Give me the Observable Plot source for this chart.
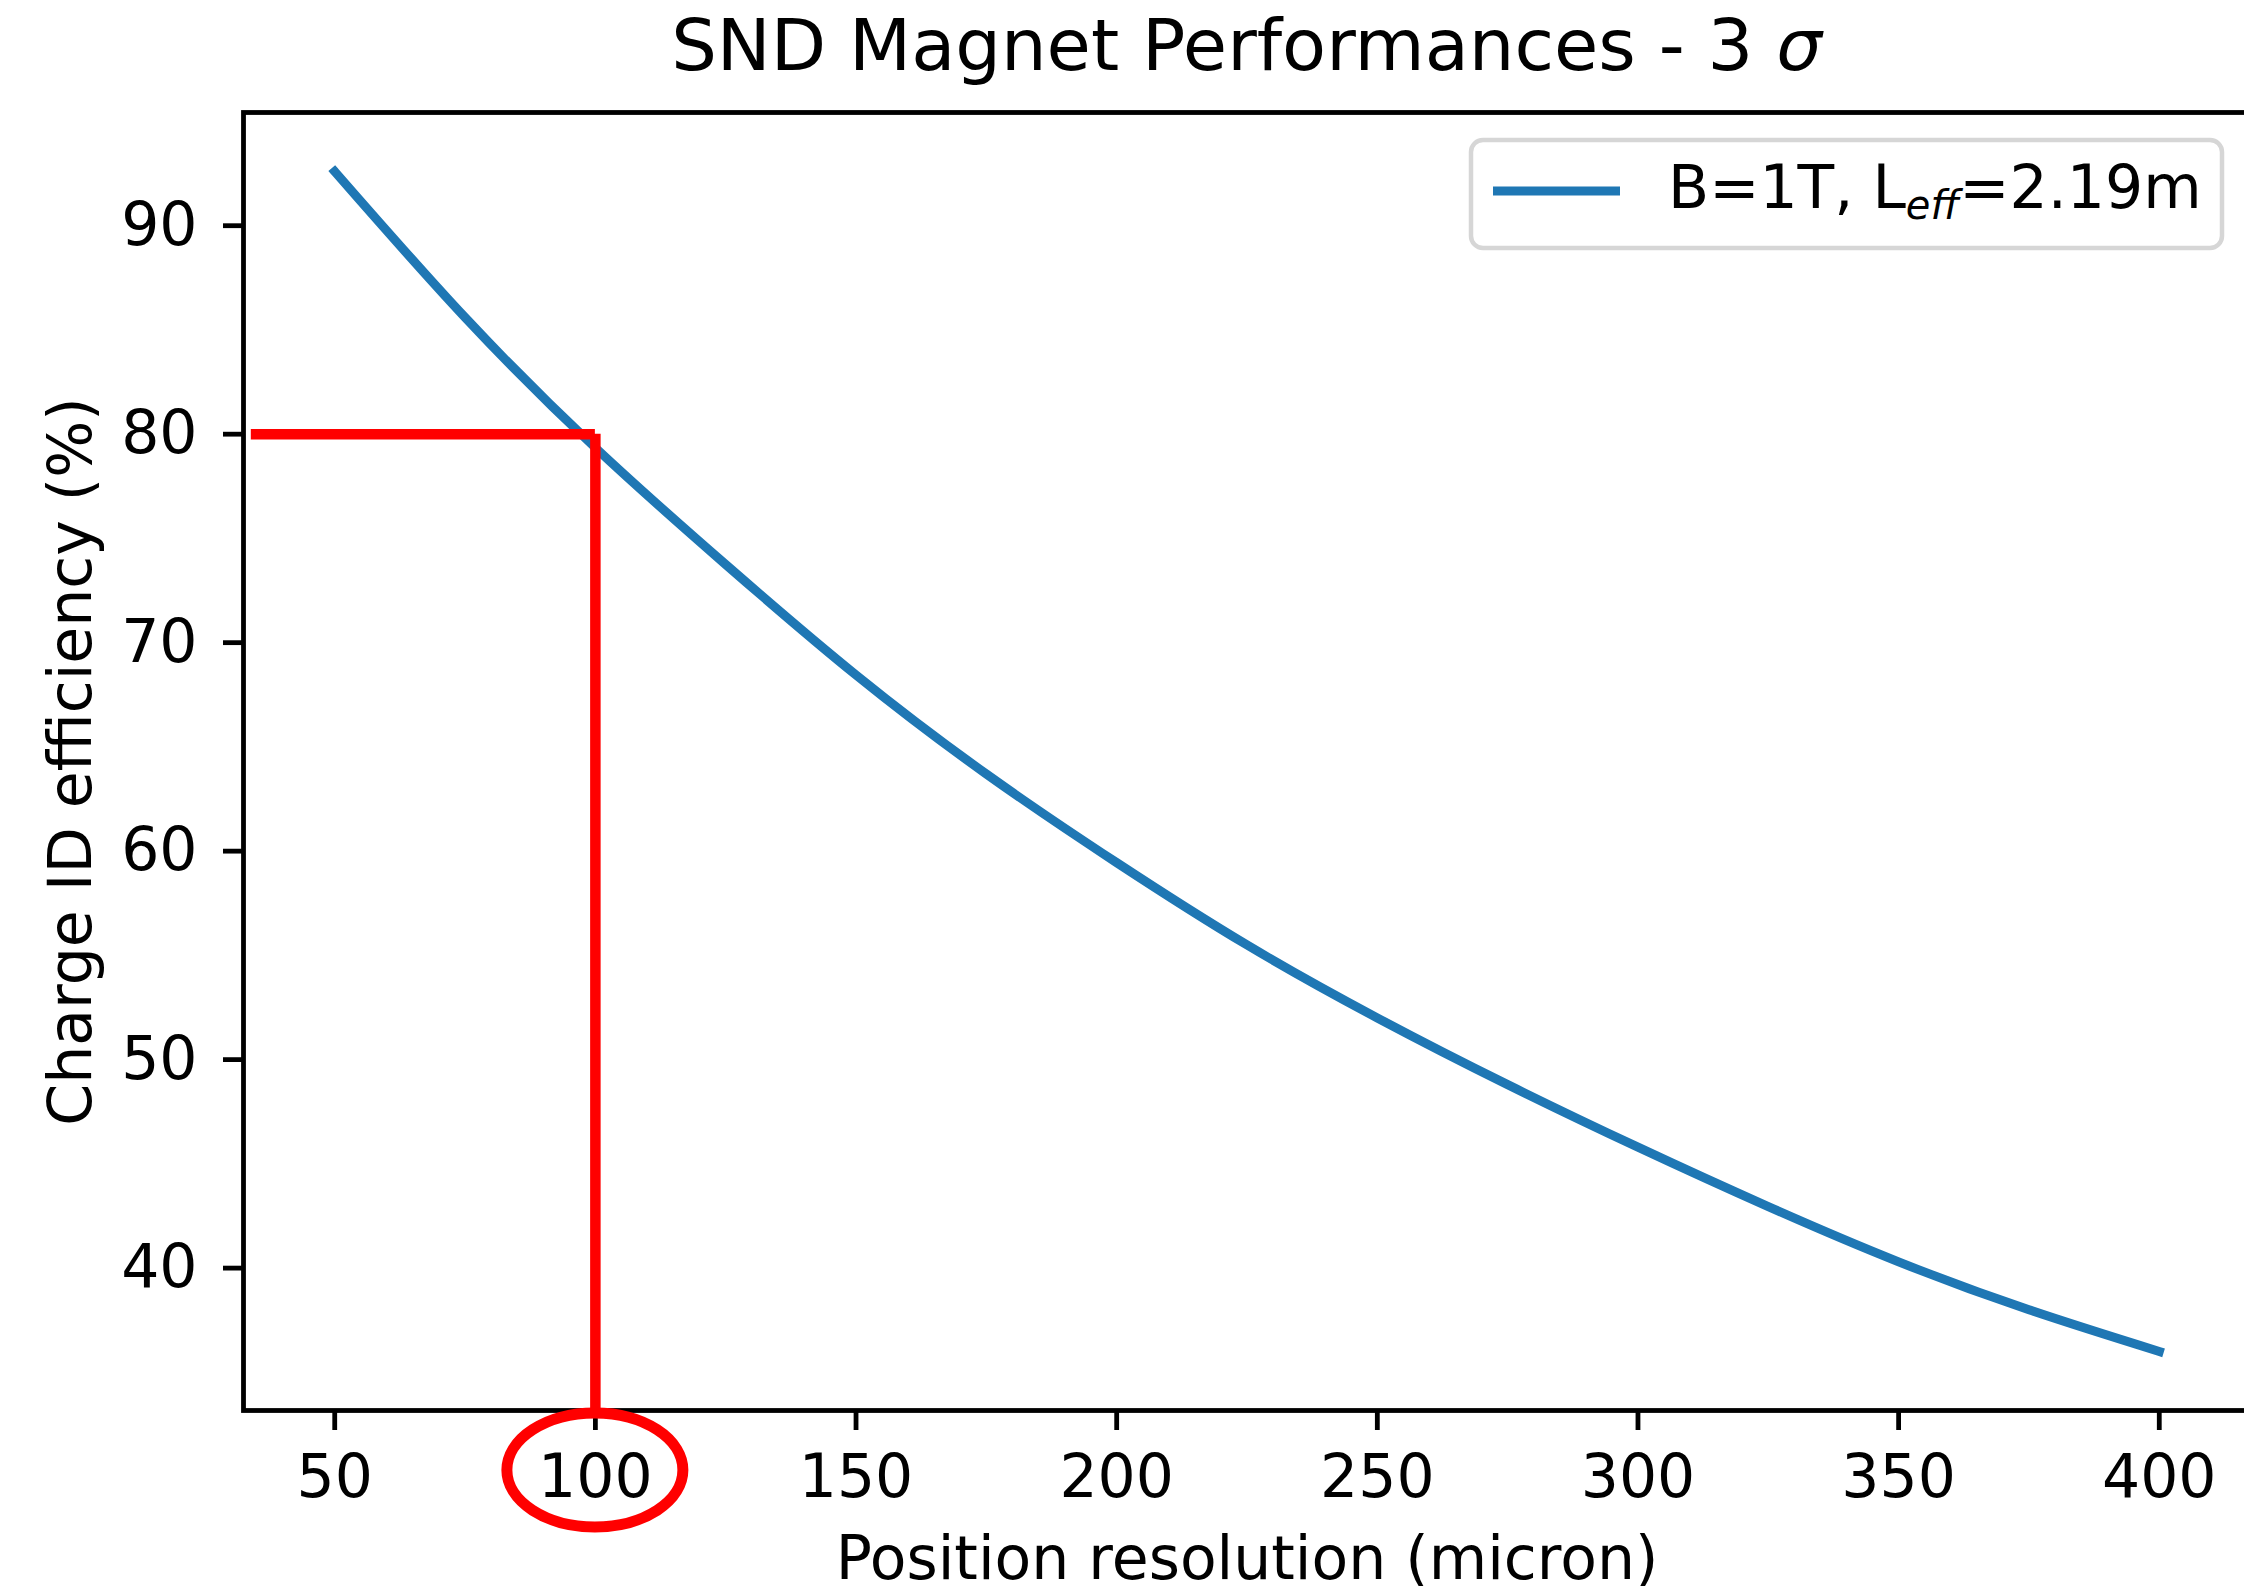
<!DOCTYPE html>
<html>
<head>
<meta charset="utf-8">
<script src="https://cdn.jsdelivr.net/npm/d3@7"></script>
<script src="https://cdn.jsdelivr.net/npm/@observablehq/plot@0.6"></script>
<style>
  html, body { margin: 0; padding: 0; background: #fff; overflow: hidden; }
</style>
</head>
<body>
<div id="chart"></div>
<script>
// Charge ID efficiency vs. tracker position resolution (B = 1 T, L_eff = 2.19 m)
const resolution = [50, 75, 100, 125, 150, 175, 200, 225, 250, 275, 300, 325, 350, 375, 400];
const efficiency = [92.6, 85.6, 79.35, 73.75, 68.45, 63.7, 59.45, 55.5, 52.0, 48.8, 45.8, 42.95, 40.3, 38.0, 36.0];

const xTicks = [50, 100, 150, 200, 250, 300, 350, 400];
const yTicks = [40, 50, 60, 70, 80, 90];
const xDomain = [32.5, 417.5];
const yDomain = [33.17, 95.43];

const titleText = "SND Magnet Performances - 3 ";
const titleSymbol = "σ";
const legendParts = ["B=1T, L", "eff", "=2.19m"];
const xLabel = "Position resolution (micron)";
const yLabel = "Charge ID efficiency (%)";

// working point highlighted in red: 80 % efficiency at 100 micron
const targetResolution = [100];
const targetEfficiency = [80];
const guideStart = [34];

const curve = resolution.map((x, i) => ({x, y: efficiency[i]}));
const BLUE = "#1f77b4";
const RED = "#ff0000";
const FONT = "'DejaVu Sans', sans-serif";
const NS = "http://www.w3.org/2000/svg";

function el(tag, attrs) {
  const e = document.createElementNS(NS, tag);
  for (const k in attrs) e.setAttribute(k, attrs[k]);
  return e;
}

// title with an italic sigma
function titleMark(index, scales, values, dims) {
  const {width, marginLeft, marginRight, marginTop} = dims;
  const t = el("text", {
    x: (marginLeft + width - marginRight) / 2,
    y: marginTop - 42,
    "text-anchor": "middle",
    "font-size": 72,
    "font-family": FONT,
    fill: "#000"
  });
  const a = el("tspan", {}); a.textContent = titleText;
  const b = el("tspan", {"font-style": "italic"}); b.textContent = titleSymbol;
  t.append(a, b);
  return t;
}

// legend box in the upper right corner
function legendMark(index, scales, values, dims) {
  const {width, marginRight, marginTop} = dims;
  const right = width - marginRight - 28;
  const left = right - 751;
  const top = marginTop + 28;
  const g = el("g", {});
  g.append(el("rect", {
    x: left, y: top, width: right - left, height: 108, rx: 12, ry: 12,
    fill: "#fff", stroke: "#d6d6d6", "stroke-width": 4.5
  }));
  g.append(el("line", {
    x1: left + 22, x2: left + 149, y1: top + 51, y2: top + 51,
    stroke: BLUE, "stroke-width": 9, "stroke-linecap": "butt"
  }));
  const t = el("text", {
    x: left + 197, y: top + 68, "text-anchor": "start",
    "font-size": 60, "font-family": FONT, fill: "#000"
  });
  const p0 = el("tspan", {}); p0.textContent = legendParts[0];
  const p1 = el("tspan", {"font-style": "italic", "font-size": 40, dy: 11}); p1.textContent = legendParts[1];
  const p2 = el("tspan", {dy: -11}); p2.textContent = legendParts[2];
  t.append(p0, p1, p2);
  g.append(t);
  return g;
}

// red ellipse around the highlighted tick label
function circleMark(index, scales, values, dims) {
  const {height, marginBottom} = dims;
  return el("ellipse", {
    cx: scales.x(targetResolution[0]),
    cy: height - marginBottom + 60,
    rx: 88, ry: 57,
    fill: "none", stroke: RED, "stroke-width": 11
  });
}

const chart = Plot.plot({
  width: 2244,
  height: 1586,
  marginTop: 112,
  marginBottom: 176,
  marginLeft: 243,
  marginRight: -6,
  style: {fontFamily: FONT, fontSize: "60px", color: "#000", background: "#fff"},
  x: {domain: xDomain},
  y: {domain: yDomain},
  marks: [
    Plot.line(curve, {x: "x", y: "y", stroke: BLUE, strokeWidth: 9, curve: "natural", strokeLinecap: "square"}),
    Plot.ruleY(targetEfficiency, {x1: guideStart[0], x2: targetResolution[0], stroke: RED, strokeWidth: 10.5, strokeLinecap: "butt"}),
    Plot.ruleX(targetResolution, {y1: targetEfficiency[0], y2: yDomain[0], stroke: RED, strokeWidth: 10.5, strokeLinecap: "butt"}),
    Plot.frame({stroke: "#000", strokeWidth: 4.8}),
    Plot.axisX(xTicks, {tickSize: 20, tickPadding: 24, strokeWidth: 4.8, stroke: "#000", fill: "#000", fontSize: 60, tickFormat: d => String(d), label: null}),
    Plot.axisY(yTicks, {tickSize: 20, tickPadding: 26, strokeWidth: 4.8, stroke: "#000", fill: "#000", fontSize: 60, tickFormat: d => String(d), label: null}),
    Plot.text([xLabel], {frameAnchor: "bottom", text: d => d, dy: 168, lineAnchor: "bottom", fontSize: 60, fill: "#000"}),
    Plot.text([yLabel], {frameAnchor: "left", text: d => d, dx: -153, rotate: -90, textAnchor: "middle", lineAnchor: "bottom", fontSize: 60, fill: "#000"}),
    circleMark,
    legendMark,
    titleMark
  ]
});

document.getElementById("chart").append(chart);
</script>
</body>
</html>
